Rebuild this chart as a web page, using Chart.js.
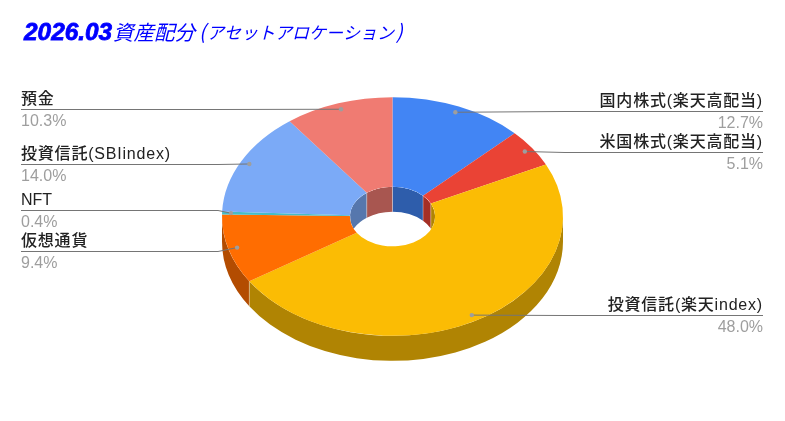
<!DOCTYPE html>
<html>
<head>
<meta charset="utf-8">
<style>
html, body { margin: 0; padding: 0; background: #fff; }
canvas { display: block; }
</style>
<script src="https://cdn.jsdelivr.net/npm/chart.js@4"></script>
</head>
<body>
<canvas id="pieChart" width="785" height="421"></canvas>
<script>
// Chart data
const categories = ['国内株式(楽天高配当)', '米国株式(楽天高配当)', '投資信託(楽天index)', '仮想通貨', 'NFT', '投資信託(SBIindex)', '預金'];
const shares = [12.7, 5.1, 48.0, 9.4, 0.4, 14.0, 10.3];
const sliceColors = ['#4285F4', '#EA4335', '#FBBC04', '#FF6D01', '#46BDC6', '#7BAAF7', '#F07B72'];

// Label placement, same order as categories
const labelSides = ['right', 'right', 'right', 'left', 'left', 'left', 'left'];
const labelLineY = [111.5, 152.5, 315.5, 251.5, 210.5, 164.5, 109.5];

const TILT = 0.7;
const DEPTH = 25;
const DOT_RADIUS = 0.948;
const LEFT_X = 21;
const RIGHT_X = 763;

// Darken a hex colour for the side walls
function darken(hex) {
    const n = parseInt(hex.slice(1), 16);
    const r = Math.round((n >> 16) * 0.7);
    const g = Math.round(((n >> 8) & 255) * 0.7);
    const b = Math.round((n & 255) * 0.7);
    return `rgb(${r}, ${g}, ${b})`;
}

// Band between an arc on the top face and the same arc one depth lower
function wallPath(ctx, x, y, r, a0, a1) {
    ctx.beginPath();
    ctx.ellipse(x, y, r, r * TILT, 0, a0, a1);
    ctx.ellipse(x, y + DEPTH, r, r * TILT, 0, a1, a0, true);
    ctx.closePath();
}

function drawWall(ctx, arc, r, color, ranges) {
    ranges.forEach(([lo, hi]) => {
        const a0 = Math.max(arc.startAngle, lo);
        const a1 = Math.min(arc.endAngle, hi);
        if (a1 <= a0) return;
        ctx.fillStyle = color;
        wallPath(ctx, arc.x, arc.y, r, a0, a1);
        ctx.fill();
    });
}

function drawSeam(ctx, arc, r, angle) {
    const px = arc.x + Math.cos(angle) * r;
    const py = arc.y + Math.sin(angle) * r * TILT;
    ctx.strokeStyle = 'rgba(255, 255, 255, 0.35)';
    ctx.lineWidth = 1;
    ctx.beginPath();
    ctx.moveTo(px, py);
    ctx.lineTo(px, py + DEPTH);
    ctx.stroke();
}

// Squashes the doughnut and adds the walls under it
const tiltPlugin = {
    id: 'tilt',
    beforeDatasetsDraw(chart) {
        const ctx = chart.ctx;
        const arcs = chart.getDatasetMeta(0).data;
        const first = arcs[0];
        const frontRange = [[0, Math.PI]];
        const backRange = [[-Math.PI / 2, 0], [Math.PI, Math.PI * 1.5]];

        // Outer wall
        arcs.forEach((arc, i) => drawWall(ctx, arc, arc.outerRadius, darken(sliceColors[i]), frontRange));
        arcs.forEach(arc => {
            if (arc.startAngle > 0 && arc.startAngle < Math.PI) drawSeam(ctx, arc, arc.outerRadius, arc.startAngle);
        });

        // Inner wall, only what shows through the hole
        ctx.save();
        ctx.beginPath();
        ctx.ellipse(first.x, first.y, first.innerRadius, first.innerRadius * TILT, 0, 0, Math.PI * 2);
        ctx.clip();
        arcs.forEach((arc, i) => drawWall(ctx, arc, arc.innerRadius, darken(sliceColors[i]), backRange));
        arcs.forEach(arc => {
            if (arc.startAngle < 0 || arc.startAngle > Math.PI) drawSeam(ctx, arc, arc.innerRadius, arc.startAngle);
        });
        ctx.restore();

        ctx.save();
        ctx.translate(first.x, first.y);
        ctx.scale(1, TILT);
        ctx.translate(-first.x, -first.y);
    },
    afterDatasetsDraw(chart) {
        chart.ctx.restore();
    }
};

// Title, pieced together because the reference mixes sizes
function drawTitle(ctx) {
    ctx.fillStyle = '#0000ff';
    ctx.strokeStyle = '#0000ff';
    ctx.textAlign = 'left';
    ctx.textBaseline = 'alphabetic';
    ctx.font = 'italic bold 24.4px "Liberation Sans"';
    ctx.lineWidth = 0.8;
    ctx.fillText('2026.03', 24, 40);
    ctx.strokeText('2026.03', 24, 40);
    ctx.font = 'italic 20.5px "Noto Sans CJK JP"';
    ctx.fillText('資産配分', 113, 40);
    ctx.font = 'italic 20px "Noto Sans CJK JP"';
    ctx.fillText('(', 199, 39);
    ctx.fillText(')', 396, 39);
    ctx.font = 'italic 17px "Noto Sans CJK JP"';
    ctx.fillText('アセットアロケーション', 207, 39);
}

// Title and the leader line labels
const labelPlugin = {
    id: 'labels',
    afterDraw(chart) {
        const ctx = chart.ctx;
        const arcs = chart.getDatasetMeta(0).data;

        ctx.save();
        drawTitle(ctx);

        arcs.forEach((arc, i) => {
            const mid = (arc.startAngle + arc.endAngle) / 2;
            const dotX = arc.x + Math.cos(mid) * arc.outerRadius * DOT_RADIUS;
            const dotY = arc.y + Math.sin(mid) * arc.outerRadius * DOT_RADIUS * TILT;
            const isLeft = labelSides[i] === 'left';
            const endX = isLeft ? LEFT_X : RIGHT_X;
            const elbowX = isLeft ? Math.min(218, dotX) : Math.max(565, dotX);
            const y = labelLineY[i];

            ctx.strokeStyle = '#757575';
            ctx.lineWidth = 1;
            ctx.beginPath();
            ctx.moveTo(endX, y);
            ctx.lineTo(elbowX, y);
            ctx.lineTo(dotX, dotY);
            ctx.stroke();

            ctx.fillStyle = '#9e9e9e';
            ctx.beginPath();
            ctx.arc(dotX, dotY, 2.2, 0, Math.PI * 2);
            ctx.fill();

            ctx.textAlign = isLeft ? 'left' : 'right';
            ctx.fillStyle = '#222222';
            ctx.font = '500 16px "Liberation Sans", "Noto Sans CJK JP"';
            ctx.letterSpacing = categories[i] === 'NFT' ? '0px' : '0.8px';
            ctx.fillText(categories[i], endX, Math.round(y - 5.5));
            ctx.letterSpacing = '0px';
            ctx.fillStyle = '#9e9e9e';
            ctx.font = '16px "Liberation Sans"';
            ctx.fillText(shares[i].toFixed(1) + '%', endX, Math.round(y + 16.7));
        });
        ctx.restore();
    }
};

new Chart(document.getElementById('pieChart'), {
    type: 'doughnut',
    data: {
        labels: categories,
        datasets: [{
            data: shares,
            backgroundColor: sliceColors,
            borderWidth: 0,
            clip: false
        }]
    },
    options: {
        responsive: false,
        animation: false,
        cutout: '25%',
        layout: { padding: { left: 222, right: 222, top: 46, bottom: 34 } },
        plugins: {
            legend: { display: false },
            tooltip: { enabled: false }
        }
    },
    plugins: [tiltPlugin, labelPlugin]
});
</script>
</body>
</html>
